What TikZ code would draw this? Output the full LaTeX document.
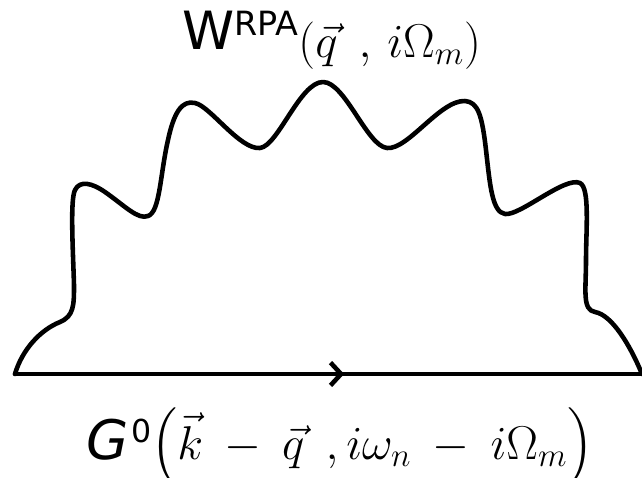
\RequirePackage{fix-cm}
\documentclass[tikz,border=0pt]{standalone}
\usepackage{amsmath}
\usepackage{fontspec}
\setsansfont{DejaVu Sans}
\usetikzlibrary{arrows.meta,decorations.markings}
\tikzset{
  prop/.style={line width=2.6pt, line cap=round, line join=round},
  wavy/.style={line width=2.6pt, line cap=round, line join=round},
  lbl/.style={anchor=base west, inner sep=0pt, font=\fontsize{27}{31}\selectfont},
  mid arrow/.style={postaction={decorate}, decoration={markings,
    mark=at position 0.525 with {\arrow{Straight Barb[length=6pt,width=13pt,line width=2.6pt]}}}}
}
\begin{document}
\begin{tikzpicture}[x=0.02cm, y=-0.02cm]
\useasboundingbox (0,0) rectangle (642,477);
\coordinate (L) at (15,374);
\coordinate (R) at (642,374);
\draw[prop, mid arrow] (L) -- (R);
\draw[wavy] (L) .. controls (22,350) and (40,330) .. (60,322)
  .. controls (74,316) and (74,305) .. (74,285)
  .. controls (73,250) and (70,200) .. (75,190)
  .. controls (80,180) and (92,183) .. (105,192)
  .. controls (125,206) and (138,220) .. (148,216)
  .. controls (160,212) and (160,175) .. (168,140)
  .. controls (174,112) and (182,100) .. (195,103)
  .. controls (210,106) and (240,150) .. (260,148)
  .. controls (278,146) and (300,82) .. (323,82)
  .. controls (345,82) and (367,146) .. (387,148)
  .. controls (408,150) and (440,100) .. (465,101)
  .. controls (478,102) and (482,115) .. (486,150)
  .. controls (490,185) and (492,212) .. (505,214)
  .. controls (520,216) and (565,176) .. (580,183)
  .. controls (590,188) and (586,230) .. (586,260)
  .. controls (586,290) and (582,310) .. (595,312)
  .. controls (612,315) and (630,345) .. (R);
\node[lbl] (W) at (182,57) {\raisebox{4pt}{\fontsize{30}{34}\selectfont\sffamily W}\raisebox{12pt}{\fontsize{19}{22}\selectfont\sffamily RPA}$(\vec{q}\;\,,\,i\Omega_m)$};
\node[lbl] (G) at (86,459) {{\fontsize{31}{35}\selectfont\sffamily\itshape G}\kern1.5pt\raisebox{9.4pt}{\fontsize{18}{21}\selectfont\sffamily 0}$\medmuskip=8mu\Bigl(\vec{k}-\vec{q}\;\,,i\omega_n-i\Omega_m\Bigr)$};
\end{tikzpicture}
\end{document}
